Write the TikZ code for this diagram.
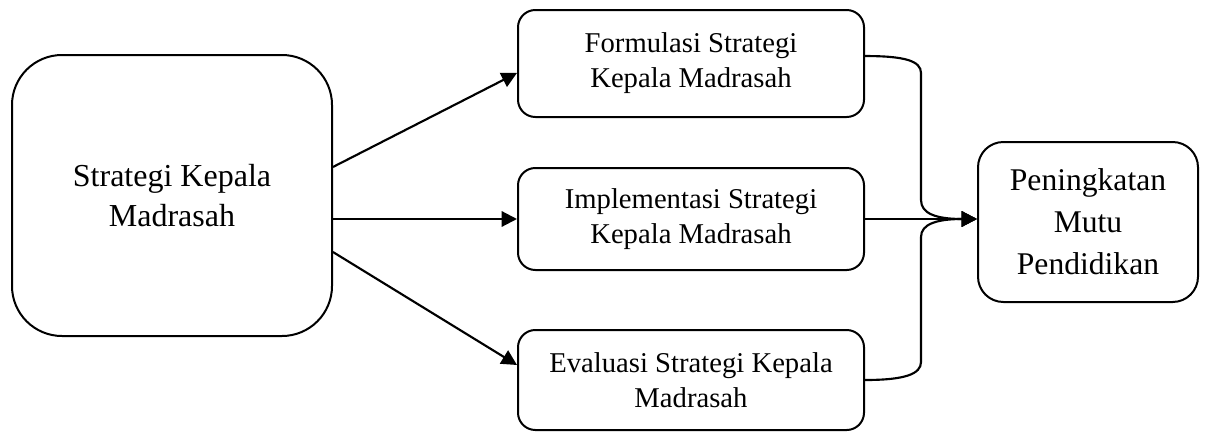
\documentclass[tikz,border=0pt]{standalone}
\usepackage{fontspec}
\setmainfont{Liberation Serif}
\usetikzlibrary{arrows.meta}

\tikzset{
	box/.style={draw, line width=1.5pt, rounded corners=13pt, align=center,
		minimum width=259.5pt, font=\fontsize{21.5}{26.25}\selectfont},
	link/.style={line width=1.6pt},
	arr/.style={line width=1.6pt, -{Triangle[length=11.5pt,width=11.5pt]}}
}

\begin{document}
\begin{tikzpicture}[x=0.75pt,y=-0.75pt]
\useasboundingbox (0,0) rectangle (1210,432);

\node[draw, line width=1.5pt, rounded corners=37.5pt, minimum width=240pt, minimum height=210.75pt, align=center, font=\fontsize{24}{30}\selectfont] (strat) at (172,195.5) {Strategi Kepala\\Madrasah};

\node[box, minimum height=80.25pt] (form) at (691,63.5) {Formulasi Strategi\\Kepala Madrasah};
\node[box, minimum height=76.5pt] (impl) at (691,219) {Implementasi Strategi\\Kepala Madrasah};
\node[box, minimum height=75pt] (eval) at (691,380) {Evaluasi Strategi Kepala\\Madrasah};

\node[draw, line width=1.5pt, rounded corners=19pt, minimum width=165pt, minimum height=120pt, align=center, font=\fontsize{23.7}{31.5}\selectfont] (mutu) at (1088,222) {Peningkatan\\Mutu\\Pendidikan};

\coordinate (tip) at (mutu.west |- impl.east);
\coordinate (bendA) at (921,73);
\coordinate (bendB) at (921,200);
\coordinate (bendC) at (921,362);
\coordinate (bendD) at (921,237);

% strategi ke tiga tahap
\draw[arr] ([yshift=21.4pt]strat.east) -- ([yshift=-7.1pt]form.west);
\draw[arr] (strat.east |- impl.west) -- (impl.west);
\draw[arr] ([yshift=-42.4pt]strat.east) -- ([yshift=11.25pt]eval.west);

% tiga tahap ke mutu
\draw[link] ([yshift=5.6pt]form.east) .. controls (905,56) and (921,61) .. (bendA) -- (bendB);
\draw[arr] (bendB) .. controls (921,214) and (937,219) .. (tip);
\draw[arr] (impl.east) -- (tip);
\draw[link] (eval.east) .. controls (905,380) and (921,374) .. (bendC) -- (bendD);
\draw[arr] (bendD) .. controls (921,224) and (937,219) .. (tip);
\end{tikzpicture}
\end{document}
